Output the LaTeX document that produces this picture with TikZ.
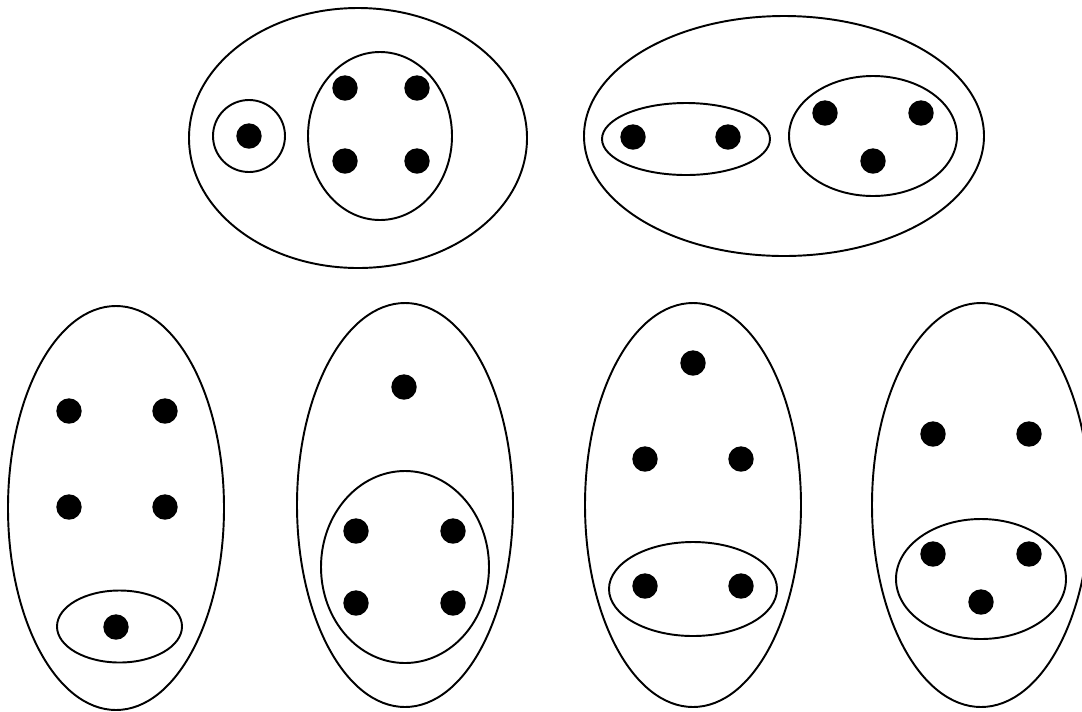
\documentclass[tikz,border=0pt]{standalone}
\tikzset{
  blob/.style={color = black, line width=1.1pt},
  elem/.style={fill = black}
}
\begin{document}
\begin{tikzpicture}[x=0.02cm, y=-0.02cm]
        \useasboundingbox (0,0) rectangle (1082,711);
        \draw[blob] (358,138) ellipse (169 and 130);
        \draw[blob] (249,136) circle (36);
        \draw[blob] (380,136) ellipse (72 and 84);
        \fill[elem] (249,136) circle (12.7);
        \fill[elem] (345,88) circle (12.7);
        \fill[elem] (417,88) circle (12.7);
        \fill[elem] (345,161) circle (12.7);
        \fill[elem] (417,161) circle (12.7);
        \draw[blob] (784,136) ellipse (200 and 120);
        \draw[blob] (686,139) ellipse (84 and 36);
        \draw[blob] (873,136) ellipse (84 and 60);
        \fill[elem] (633,137) circle (12.7);
        \fill[elem] (728,137) circle (12.7);
        \fill[elem] (825,113) circle (12.7);
        \fill[elem] (921,113) circle (12.7);
        \fill[elem] (873,161) circle (12.7);
        \draw[blob] (116,508) ellipse (108 and 202);
        \draw[blob] (119.5,626.5) ellipse (62.5 and 36);
        \fill[elem] (69,411) circle (12.7);
        \fill[elem] (165,411) circle (12.7);
        \fill[elem] (69,507) circle (12.7);
        \fill[elem] (165,507) circle (12.7);
        \fill[elem] (116,627) circle (12.7);
        \draw[blob] (405,505) ellipse (108 and 202);
        \draw[blob] (405,567) ellipse (84 and 96);
        \fill[elem] (404,387) circle (12.7);
        \fill[elem] (356,531) circle (12.7);
        \fill[elem] (453,531) circle (12.7);
        \fill[elem] (356,603) circle (12.7);
        \fill[elem] (453,603) circle (12.7);
        \draw[blob] (693,505) ellipse (108 and 202);
        \draw[blob] (693,589) ellipse (84 and 47);
        \fill[elem] (693,363) circle (12.7);
        \fill[elem] (645,459) circle (12.7);
        \fill[elem] (741,459) circle (12.7);
        \fill[elem] (645,586) circle (12.7);
        \fill[elem] (741,586) circle (12.7);
        \draw[blob] (981,505) ellipse (109 and 202);
        \draw[blob] (981,579) ellipse (85 and 60);
        \fill[elem] (933,434) circle (12.7);
        \fill[elem] (1029,434) circle (12.7);
        \fill[elem] (933,554) circle (12.7);
        \fill[elem] (1029,554) circle (12.7);
        \fill[elem] (981,602) circle (12.7);
\end{tikzpicture}
\end{document}
